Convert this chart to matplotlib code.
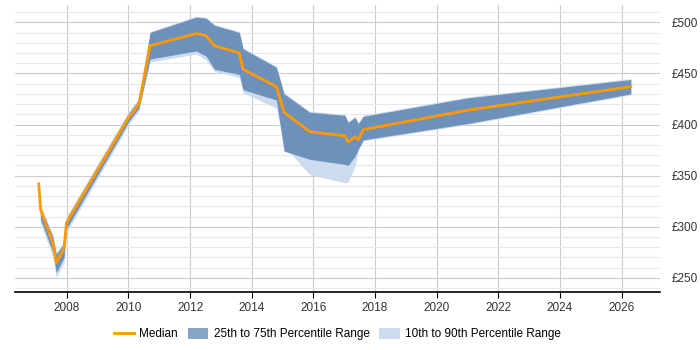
import numpy as np
import matplotlib
matplotlib.use('Agg')
import matplotlib.pyplot as plt
from matplotlib.lines import Line2D
from matplotlib.patches import Patch
from matplotlib.ticker import MultipleLocator, FuncFormatter

plt.rcParams['font.family'] = ['Liberation Sans', 'DejaVu Sans']

# decimal years
years = [2007.09, 2007.15, 2007.55, 2007.66, 2007.91, 2007.99, 2010.01, 2010.34,
         2010.70, 2012.20, 2012.52, 2012.79, 2013.60, 2013.72, 2014.80, 2015.05,
         2015.88, 2017.02, 2017.13, 2017.35, 2017.46, 2017.62, 2021.00, 2026.30]

median = [342, 317, 284, 265, 279, 304, 407, 420, 477, 489, 487, 477,
          470, 454, 437, 412, 393, 389, 383, 388, 385, 395, 414, 437]
p75 = [342, 319, 290, 273, 284, 308, 411, 424, 490, 505, 504, 497,
       490, 474, 456, 430, 412, 409, 402, 407, 401, 408, 426, 444]
p25 = [342, 307, 275, 255, 270, 298, 403, 416, 464, 472, 467, 454,
       449, 434, 424, 374, 366, 361, 360, 369, 376, 385, 401, 430]
p90 = [342, 321, 292, 275, 286, 310, 413, 426, 491, 506, 505, 498,
       491, 475, 457, 431, 413, 410, 403, 408, 402, 409, 427, 445]
p10 = [342, 303, 270, 250, 265, 294, 400, 413, 461, 469, 463, 452,
       446, 431, 416, 379, 351, 343, 344, 359, 375, 384, 400, 429]

dark = '#6d91ba'
light = '#ccdcee'
orange = '#ff9900'

fig = plt.figure(figsize=(7, 3.5), dpi=100)
ax = fig.add_axes([0.021, 0.166, 0.922, 0.82])

ax.fill_between(years, p10, p90, color=light, lw=0)
ax.fill_between(years, p25, p75, color=dark, lw=0)
ax.plot(years, median, color=orange, lw=2)

ax.set_xlim(2006.31, 2027.25)
ax.set_ylim(236.3, 517)

ax.xaxis.set_major_locator(MultipleLocator(2))
ax.yaxis.set_major_locator(MultipleLocator(50))
ax.yaxis.set_minor_locator(MultipleLocator(10))
ax.yaxis.set_major_formatter(FuncFormatter(lambda v, p: '£%d' % v))
ax.yaxis.tick_right()

ax.grid(which='major', axis='both', color='#cccccc', lw=0.8)
ax.grid(which='minor', axis='y', color='#e8e8e8', lw=0.8)
ax.set_axisbelow(True)

for s in ['top', 'left', 'right']:
    ax.spines[s].set_visible(False)
ax.spines['bottom'].set_color('black')
ax.spines['bottom'].set_linewidth(1.2)

ax.tick_params(axis='y', which='both', length=0, pad=8, labelsize=8.5, labelcolor='#333333')
ax.tick_params(axis='x', length=4, color='black', labelsize=8.5, labelcolor='#333333')

handles = [Line2D([0], [0], color=orange, lw=2),
           Patch(facecolor='#86a5c7'),
           Patch(facecolor=light)]
labels = ['Median', '25th to 75th Percentile Range', '10th to 90th Percentile Range']
fig.legend(handles, labels, loc='center', bbox_to_anchor=(0.482, 0.045), ncol=3,
           frameon=False, fontsize=8.5, handlelength=1.7, handleheight=1.0,
           handletextpad=0.45, columnspacing=0.85)

fig.savefig('out.png', dpi=100)
